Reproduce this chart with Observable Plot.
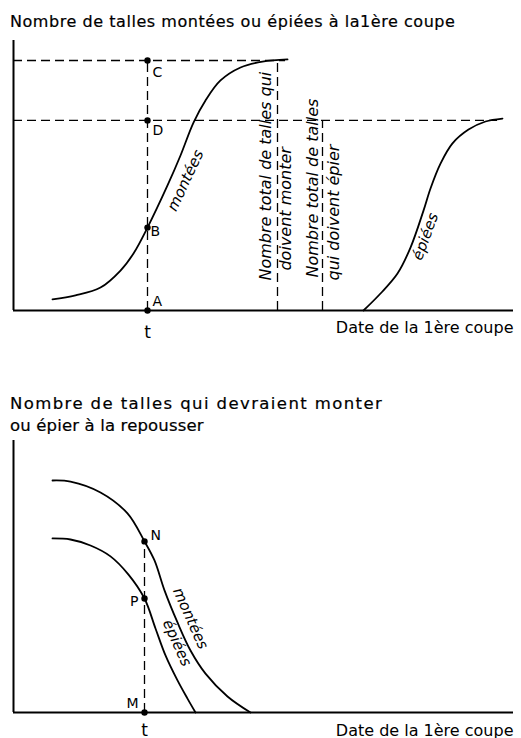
<!DOCTYPE html>
<html>
<head>
<meta charset="utf-8">
<script src="https://cdn.jsdelivr.net/npm/d3@7"></script>
<script src="https://cdn.jsdelivr.net/npm/@observablehq/plot@0.6"></script>
<style>
html, body { margin: 0; padding: 0; background: #fff; }
#page { position: relative; width: 521px; height: 738px; overflow: hidden; font-family: "DejaVu Sans", sans-serif; color: #000; }
.title { position: absolute; white-space: nowrap; line-height: 1; -webkit-text-stroke: 0.2px #000; }
#t1 { left: 10px; top: 14px; font-size: 16px; letter-spacing: 0.55px; }
#t2a { left: 10px; top: 396px; font-size: 16.5px; letter-spacing: 1.4px; }
#t2b { left: 10px; top: 418px; font-size: 16.5px; letter-spacing: 0.15px; }
#p1 { position: absolute; left: 0; top: 30px; }
#p2 { position: absolute; left: 0; top: 430px; }
</style>
</head>
<body>
<div id="page">
  <div class="title" id="t1"></div>
  <div id="p1"></div>
  <div class="title" id="t2a"></div>
  <div class="title" id="t2b"></div>
  <div id="p2"></div>
</div>
<script>
// ---------- texts ----------
const title1 = "Nombre de talles montées ou épiées à la1ère coupe";
const title2 = ["Nombre de talles qui devraient monter", "ou épier à la repousser"];
const xLabel = "Date de la 1ère coupe";
const tLabel = "t";
const curveNames = ["montées", "épiées"];
const totalLabels = ["Nombre total de talles qui", "doivent monter", "Nombre total de talles", "qui doivent épier"];

// ---------- chart 1 (schematic units: date 0–100, tillers 0–100) ----------
const c1MonteesX = [7.8, 12.4, 17.4, 21.4, 24.0, 26.8, 30.8, 33.4, 36.0, 38.4, 41.4, 45.4, 49.8, 54.8];
const c1MonteesY = [4.1, 5.6, 8.5, 14.8, 21.1, 30.7, 46.3, 57.4, 69.6, 77.8, 85.2, 90.0, 92.2, 93.0];
const c1EpieesX = [70.0, 73.4, 76.8, 79.4, 82.0, 83.4, 85.4, 87.8, 91.0, 94.4, 97.8];
const c1EpieesY = [0.0, 6.3, 13.7, 23.3, 37.0, 45.2, 54.4, 61.9, 67.0, 70.0, 71.1];
const c1T = 26.8;                       // date t
const c1PointNames = ["C", "D", "B", "A"];
const c1PointY = [92.6, 70.4, 30.7, 0];
const c1TotalDates = [52.8, 61.8];      // totals for montées / épiées
const c1LevelEnds = [54.4, 96.8];       // end of C and D level guides

// ---------- chart 2 ----------
const c2MonteesX = [7.8, 11.4, 17.4, 22.8, 26.2, 28.2, 30.2, 32.8, 35.4, 38.4, 42.8, 47.4];
const c2MonteesY = [85.3, 84.9, 80.9, 73.2, 62.9, 55.9, 44.9, 33.1, 22.8, 14.3, 5.9, 0];
const c2EpieesX = [7.8, 11.4, 15.4, 19.4, 23.0, 26.2, 28.4, 30.4, 32.8, 34.8, 36.4];
const c2EpieesY = [64.0, 63.6, 61.4, 57.4, 50.7, 41.9, 30.9, 21.0, 11.8, 5.1, 0];
const c2T = 26.2;
const c2PointNames = ["N", "P", "M"];
const c2PointY = [62.9, 41.9, 0];

// ---------- helpers ----------
const FONT = "DejaVu Sans";
const zip = (xs, ys) => xs.map((x, i) => ({x, y: ys[i]}));
const dash = "9,5";
const label = (s, x, y, o) => Plot.text([s], {x: () => x, y: () => y, text: d => d, lineAnchor: "bottom", fill: "#000", ...o});

function chart(height, marginTop, marginBottom, marks) {
  return Plot.plot({
    width: 521, height, marginLeft: 13, marginRight: 8, marginTop, marginBottom,
    x: {domain: [0, 100], axis: null},
    y: {domain: [0, 100], axis: null},
    style: {fontFamily: FONT, background: "transparent", overflow: "visible", color: "#000"},
    marks
  });
}
const axes = [
  Plot.ruleX([0], {y1: 0, y2: 100, stroke: "#000", strokeWidth: 2}),
  Plot.ruleY([0], {x1: 0, x2: 100, stroke: "#000", strokeWidth: 2})
];
const curve = (xs, ys) => Plot.line(zip(xs, ys), {x: "x", y: "y", curve: "catmull-rom", stroke: "#000", strokeWidth: 1.8});

// ---------- chart 1 ----------
const p1 = chart(315, 10, 35, [
  Plot.ruleY(c1PointY.slice(0, 2).map((y, i) => ({y, x2: c1LevelEnds[i]})),
    {y: "y", x1: 0, x2: "x2", stroke: "#000", strokeWidth: 1.3, strokeDasharray: dash}),
  Plot.ruleX([{x: c1T, y2: c1PointY[0]}, {x: c1TotalDates[0], y2: c1PointY[0]}, {x: c1TotalDates[1], y2: c1PointY[1]}],
    {x: "x", y1: 0, y2: "y2", stroke: "#000", strokeWidth: 1.3, strokeDasharray: dash}),
  ...axes,
  curve(c1MonteesX, c1MonteesY),
  curve(c1EpieesX, c1EpieesY),
  Plot.dot(c1PointY.map(y => ({x: c1T, y})), {x: "x", y: "y", r: 3.2, fill: "#000", stroke: null}),
  label("C", c1T, c1PointY[0], {dx: 5, dy: 17, textAnchor: "start", fontSize: 14}),
  label("D", c1T, c1PointY[1], {dx: 5, dy: 15, textAnchor: "start", fontSize: 14}),
  label("B", c1T, c1PointY[2], {dx: 3, dy: 8, textAnchor: "start", fontSize: 14}),
  label("A", c1T, c1PointY[3], {dx: 5, dy: -5, textAnchor: "start", fontSize: 14}),
  label(tLabel, c1T, 0, {dy: 27, textAnchor: "middle", fontSize: 17}),
  label(xLabel, 100, 0, {dy: 22, textAnchor: "end", fontSize: 16}),
  label(totalLabels[0], 51.4, 11.1, {rotate: -90, textAnchor: "start", fontSize: 16, fontStyle: "italic"}),
  label(totalLabels[1], 55.4, 14.8, {rotate: -90, textAnchor: "start", fontSize: 16, fontStyle: "italic"}),
  label(totalLabels[2], 60.8, 12.2, {rotate: -90, textAnchor: "start", fontSize: 16, fontStyle: "italic"}),
  label(totalLabels[3], 65.0, 11.1, {rotate: -90, textAnchor: "start", fontSize: 16, fontStyle: "italic"}),
  label(curveNames[0], 34.4, 48.1, {rotate: -65, textAnchor: "middle", lineAnchor: "middle", fontSize: 15, fontStyle: "italic"}),
  label(curveNames[1], 82.4, 27.4, {rotate: -70, textAnchor: "middle", lineAnchor: "middle", fontSize: 15, fontStyle: "italic"})
]);

// ---------- chart 2 ----------
const p2 = chart(308, 10, 26, [
  Plot.ruleX([{x: c2T, y2: c2PointY[0]}], {x: "x", y1: 0, y2: "y2", stroke: "#000", strokeWidth: 1.3, strokeDasharray: dash}),
  ...axes,
  curve(c2MonteesX, c2MonteesY),
  curve(c2EpieesX, c2EpieesY),
  Plot.dot(c2PointY.map(y => ({x: c2T, y})), {x: "x", y: "y", r: 3.2, fill: "#000", stroke: null}),
  label("N", c2T, c2PointY[0], {dx: 6, dy: -1, textAnchor: "start", fontSize: 14}),
  label("P", c2T, c2PointY[1], {dx: -6, dy: 7, textAnchor: "end", fontSize: 14}),
  label("M", c2T, c2PointY[2], {dx: -6, dy: -5, textAnchor: "end", fontSize: 14}),
  label(tLabel, c2T, 0, {dy: 23, textAnchor: "middle", fontSize: 17}),
  label(xLabel, 100, 0, {dy: 23, textAnchor: "end", fontSize: 16}),
  label(curveNames[0], 35.4, 34.6, {rotate: 66, textAnchor: "middle", lineAnchor: "middle", fontSize: 15, fontStyle: "italic"}),
  label(curveNames[1], 32.7, 25.6, {rotate: 66, textAnchor: "middle", lineAnchor: "middle", fontSize: 15, fontStyle: "italic"})
]);

document.getElementById("t1").textContent = title1;
document.getElementById("t2a").textContent = title2[0];
document.getElementById("t2b").textContent = title2[1];
document.getElementById("p1").appendChild(p1);
document.getElementById("p2").appendChild(p2);
</script>
</body>
</html>
